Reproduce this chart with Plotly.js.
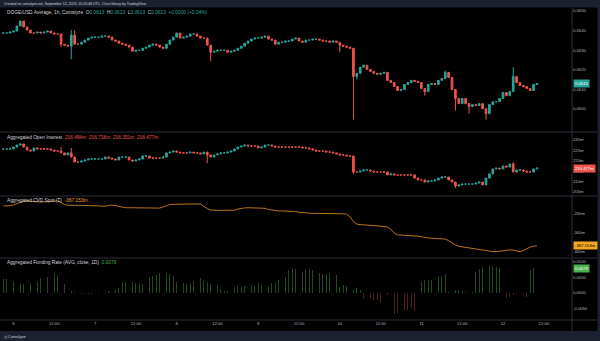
<!DOCTYPE html>
<html><head><meta charset="utf-8">
<script src="https://cdn.plot.ly/plotly-3.0.1.min.js"></script>
<style>html,body{margin:0;padding:0;background:#000;}#c{width:600px;height:341px;}</style>
</head><body><div id="c"></div>
<script>
// ---- DATA (hourly, first candle 2023-09-05 21:00 UTC) ----
const firstHour = Date.UTC(2023, 8, 5, 21);
const priceFirstOpen = 0.06387;
const priceClose = [
0.06387,0.06387,0.06392,
0.06397,0.06423,0.06448,0.06418,0.06402,0.06387,0.06387,0.06392,0.06387,0.06392,
0.06397,0.06387,0.06382,0.06382,0.06330,0.06325,0.06320,0.06376,0.06330,0.06330,
0.06340,0.06351,0.06361,0.06366,0.06366,0.06366,0.06371,0.06371,0.06366,0.06351,
0.06346,0.06335,0.06330,0.06325,0.06315,0.06294,0.06299,0.06299,0.06309,0.06315,
0.06325,0.06330,0.06325,0.06315,0.06309,0.06330,0.06351,0.06366,0.06387,0.06361,
0.06366,0.06371,0.06382,0.06382,0.06371,0.06361,0.06361,0.06325,0.06289,0.06294,
0.06299,0.06299,0.06299,0.06289,0.06294,0.06299,0.06309,0.06320,0.06335,0.06346,
0.06356,0.06361,0.06361,0.06366,0.06371,0.06356,0.06351,0.06330,0.06340,0.06340,
0.06346,0.06346,0.06356,0.06361,0.06346,0.06340,0.06351,0.06351,0.06356,0.06356,
0.06351,0.06346,0.06346,0.06340,0.06346,0.06340,0.06325,0.06320,0.06315,0.06309,
0.06165,0.06181,0.06212,0.06222,0.06201,0.06191,0.06181,0.06176,0.06181,0.06186,
0.06145,0.06134,0.06114,0.06093,0.06098,0.06124,0.06134,0.06145,0.06140,0.06134,
0.06103,0.06088,0.06124,0.06129,0.06124,0.06145,0.06155,0.06186,0.06160,0.06098,
0.06052,0.06026,0.06052,0.06026,0.06011,0.06021,0.06016,0.06026,0.06000,0.05975,
0.06021,0.06036,0.06036,0.06052,0.06083,0.06067,0.06088,0.06165,0.06134,0.06119,
0.06114,0.06103,0.06093,0.06124,0.06129
];
// notable wicks, keyed by candle index
const priceWickHigh = {20: 0.06402, 21: 0.06402, 130: 0.06196, 150: 0.06212};
const priceWickLow  = {17: 0.06315, 20: 0.06253, 61: 0.06243, 99: 0.06289, 103: 0.05944, 104: 0.06150, 124: 0.06067, 133: 0.05990, 137: 0.05975, 142: 0.05944};

const oiFirstOpen = 225.7;
const oiClose = [
225.7,225.7,225.7,
226.6,227.6,228.1,226.6,225.2,224.7,226.2,225.7,225.7,225.7,
225.7,225.2,224.7,224.7,223.8,222.8,223.8,221.8,219.4,219.4,
219.9,220.4,220.9,220.9,220.9,220.9,220.9,221.8,221.3,220.9,
220.4,221.8,221.8,221.8,220.4,219.9,220.4,220.9,222.3,222.3,
221.3,221.3,221.3,221.3,221.8,223.8,224.2,224.7,224.2,223.8,
223.8,223.8,224.2,223.8,223.8,223.3,224.2,222.8,221.8,222.8,
223.3,223.8,223.8,224.2,224.7,225.7,226.6,227.1,227.6,227.1,
227.1,227.1,226.2,226.6,227.6,227.6,227.1,226.6,226.6,226.6,
226.6,226.6,226.6,226.6,226.6,226.2,226.2,225.7,225.2,224.7,
224.7,224.7,224.2,224.2,223.8,223.3,222.8,222.8,222.3,222.3,
214.6,214.6,215.1,215.6,215.6,215.1,214.6,214.6,214.6,214.6,
213.2,213.7,213.2,213.2,213.2,213.2,213.2,213.2,211.7,210.8,
210.8,209.8,210.3,210.3,210.8,211.7,212.2,212.2,210.8,209.8,
207.9,208.4,208.8,208.8,208.8,208.8,209.3,209.8,208.4,211.7,
213.7,216.1,216.5,216.1,217.5,217.0,218.5,214.6,215.6,215.6,
215.1,214.6,214.6,216.1,216.477
];
const oiWickHigh = {17: 226.6, 20: 226.2, 150: 219.4};
const oiWickLow  = {60: 218.9, 103: 213.7, 133: 206.9};

const cvd = [
-158,-158,-156,
-152,-145,-137,-133,-132,-134,-136,-137,-137,-136,
-135,-134,-132,-131,-140,-150,-154,-155,-155,-155,
-155,-155,-156,-156,-156,-158,-160,-159,-155,-153,
-156,-160,-166,-167,-167,-167,-167,-167,-168,-170,
-170,-170,-170,-169,-163,-155,-150,-149,-149,-149,
-149,-148,-148,-148,-147,-147,-160,-172,-179,-181,
-181,-181,-181,-181,-181,-180,-174,-170,-168,-167,
-167,-167,-167,-168,-170,-176,-180,-183,-184,-184,
-184,-184,-185,-187,-191,-193,-196,-197,-197,-197,
-197,-197,-197,-197,-197,-197,-198,-199,-201,-215,
-240,-253,-256,-258,-259,-260,-261,-262,-264,-266,
-268,-280,-300,-310,-311,-311,-311,-312,-313,-317,
-320,-325,-326,-327,-328,-329,-331,-332,-340,-352,
-363,-370,-373,-375,-377,-378,-382,-386,-389,-392,
-395,-398,-398,-396,-393,-390,-389,-390,-394,-398,
-392,-382,-374,-370,-367.153
];

const funding = [
0.0045,0.0045,0.0045,
0.0040,0.0036,0.0031,0.0028,0.0034,0.0033,0.0036,0.0036,0.0047,0.0053,
0.0053,0.0056,0.0061,0.0058,0.0053,0.0028,0.0010,0.0006,0.0003,0.0001,
-0.0002,-0.0002,-0.0003,-0.0002,-0.0004,-0.0003,-0.0001,-0.0002,0.0008,0.0011,
0.0010,0.0015,0.0036,0.0036,0.0038,0.0036,0.0033,0.0031,0.0028,0.0036,
0.0052,0.0055,0.0058,0.0063,0.0067,0.0063,0.0060,0.0056,0.0036,0.0031,
0.0031,0.0028,0.0031,0.0036,0.0042,0.0047,0.0042,0.0036,0.0028,0.0026,
0.0026,0.0013,0.0008,0.0005,0.0010,0.0020,0.0023,0.0020,0.0023,0.0020,
0.0026,0.0023,0.0031,0.0026,0.0020,0.0023,0.0031,0.0036,0.0042,0.0042,
0.0053,0.0074,0.0077,0.0077,0.0072,0.0069,0.0074,0.0079,0.0074,0.0063,
0.0063,0.0060,0.0060,0.0060,0.0060,0.0058,0.0020,0.0026,0.0023,0.0028,
0.0010,0.0015,0.0010,-0.0017,-0.0023,-0.0017,-0.0023,-0.0023,-0.0033,-0.0006,
-0.0006,-0.0001,-0.0069,-0.0066,-0.0060,-0.0055,-0.0055,-0.0050,-0.0058,-0.0060,
0.0036,0.0042,0.0042,0.0042,0.0053,0.0056,0.0056,0.0060,0.0002,0.0006,
0.0010,0.0010,0.0006,0.0004,0.0002,0.0004,0.0069,0.0079,0.0085,0.0090,
0.0090,0.0088,0.0085,0.0082,-0.0006,-0.0017,-0.0012,-0.0006,-0.0004,-0.0004,
-0.0004,-0.0012,0.0074,0.0082,0.0079
];

const xTickVals = ['2023-09-06 00:00','2023-09-06 12:00','2023-09-07 00:00','2023-09-07 12:00','2023-09-08 00:00','2023-09-08 12:00','2023-09-09 00:00','2023-09-09 12:00','2023-09-10 00:00','2023-09-10 12:00','2023-09-11 00:00','2023-09-11 12:00','2023-09-12 00:00','2023-09-12 12:00'];
const xTickText = ['6','12:00','7','12:00','8','12:00','9','12:00','10','12:00','11','12:00','12','12:00'];
const priceTicks = [0.0600,0.0610,0.0620,0.0630,0.0640,0.0650];
const oiTicks = [205,210,215,220,225,230];
const oiTickText = ['205m','210m','215m','220m','225m','230m'];
const cvdTicks = [-400,-300,-200];
const cvdTickText = ['-400m','-300m','-200m'];
const fundTicks = [-0.005,0,0.005,0.01];
const fundTickText = ['-0.0050','0.0000','0.0050','0.0100'];

// ---- BUILD ----
const N = priceClose.length;
const times = [];
for (let i = 0; i < N; i++) times.push(new Date(firstHour + i*3600000).toISOString().slice(0,16).replace('T',' '));
function ohlc(first, close, wh, wl){
  const o=[],h=[],l=[];
  for (let i=0;i<close.length;i++){
    const op = i===0 ? first : close[i-1];
    o.push(op);
    h.push(Math.max(op, close[i], wh[i]!==undefined?wh[i]:-Infinity));
    l.push(Math.min(op, close[i], wl[i]!==undefined?wl[i]:Infinity));
  }
  return {o,h,l};
}
const P = ohlc(priceFirstOpen, priceClose, priceWickHigh, priceWickLow);
const O = ohlc(oiFirstOpen, oiClose, oiWickHigh, oiWickLow);

const W=600, H=341;
const X = px => px/W, Y = py => 1-py/H;
const UP='#26a69a', DN='#ef5350', AX='#b2b5be', TXT='#d1d4dc', FONT='Liberation Sans, Arial, sans-serif';

const traces = [
  {type:'candlestick', x:times, open:P.o, high:P.h, low:P.l, close:priceClose, xaxis:'x', yaxis:'y',
   increasing:{line:{color:UP,width:1},fillcolor:UP}, decreasing:{line:{color:DN,width:1},fillcolor:DN},
   whiskerwidth:0, hoverinfo:'skip', showlegend:false},
  {type:'candlestick', x:times, open:O.o, high:O.h, low:O.l, close:oiClose, xaxis:'x', yaxis:'y2',
   increasing:{line:{color:UP,width:1},fillcolor:UP}, decreasing:{line:{color:DN,width:1},fillcolor:DN},
   whiskerwidth:0, hoverinfo:'skip', showlegend:false},
  {type:'scatter', mode:'lines', x:times, y:cvd, xaxis:'x', yaxis:'y3', line:{color:'#b8731c',width:1}, hoverinfo:'skip', showlegend:false},
  {type:'bar', x:times, y:funding, xaxis:'x', yaxis:'y4', width:800000,
   marker:{color:funding.map(v=>v>=0?'#1f4a22':'#4f1e1e'), line:{width:0}}, hoverinfo:'skip', showlegend:false}
];

const yCommon = {side:'right', anchor:'x', showgrid:false, zeroline:false, showline:false, ticks:'', fixedrange:true,
  tickfont:{size:4.2, color:AX, family:FONT}};
const sep = py => ({type:'line', xref:'paper', yref:'paper', x0:0, x1:X(597), y0:Y(py), y1:Y(py), line:{color:'#2a2e39',width:1}});
const lastI = N-1;
const hdr = (py, html) => ({xref:'paper', yref:'paper', x:X(5), y:Y(py), xanchor:'left', yanchor:'middle', showarrow:false, text:html, font:{size:4.8, color:TXT, family:FONT}});
const box = (yref, yv, txt, bg, fg) => ({xref:'paper', yref:yref, x:X(573), y:yv, xanchor:'left', yanchor:'middle', showarrow:false, text:txt, bgcolor:bg, borderpad:1, font:{size:4.2, color:fg, family:FONT}});
const c = (col, t) => '<span style="color:'+col+'">'+t+'</span>';

const layout = {
  width:W, height:H, margin:{l:0,r:0,t:0,b:0}, paper_bgcolor:'#000', plot_bgcolor:'#000',
  showlegend:false, bargap:0, font:{family:FONT, color:AX},
  xaxis:{domain:[0,X(572)], type:'date', range:['2023-09-05 20:02','2023-09-12 20:18'], anchor:'y4',
    tickvals:xTickVals, ticktext:xTickText, showgrid:false, zeroline:false, showline:false, ticks:'',
    tickfont:{size:4.2, color:AX, family:FONT}, rangeslider:{visible:false}, fixedrange:true},
  yaxis:Object.assign({}, yCommon, {domain:[Y(132),Y(8)], range:[0.05881,0.06515], tickvals:priceTicks, tickformat:'.4f'}),
  yaxis2:Object.assign({}, yCommon, {domain:[Y(196),Y(132)], range:[203.08,233.85], tickvals:oiTicks, ticktext:oiTickText}),
  yaxis3:Object.assign({}, yCommon, {domain:[Y(258),Y(196)], range:[-431.6,-105.3], tickvals:cvdTicks, ticktext:cvdTickText}),
  yaxis4:Object.assign({}, yCommon, {domain:[Y(320),Y(258)], range:[-0.00871,0.01129], tickvals:fundTicks, ticktext:fundTickText}),
  shapes:[
    {type:'rect', xref:'paper', yref:'paper', x0:0, x1:1, y0:Y(7.5), y1:1, fillcolor:'#1c2130', line:{width:0}},
    {type:'rect', xref:'paper', yref:'paper', x0:0, x1:1, y0:0, y1:Y(331), fillcolor:'#1c2130', line:{width:0}},
    {type:'rect', xref:'paper', yref:'paper', x0:X(597.5), x1:1, y0:0, y1:1, fillcolor:'#1c2130', line:{width:0}},
    sep(132), sep(196), sep(258), sep(320),
    {type:'line', xref:'paper', yref:'paper', x0:X(572), x1:X(572), y0:Y(331), y1:Y(8), line:{color:'#2a2e39',width:1}}
  ],
  annotations:[
    {xref:'paper', yref:'paper', x:X(2), y:Y(3.7), xanchor:'left', yanchor:'middle', showarrow:false,
     text:'Created on coinalyze.net, September 12, 2023, 10:20:48 UTC, Chart library by TradingView', font:{size:3.5,color:'#d1d4dc',family:FONT}},
    hdr(13, 'DOGE/USD Average, 1h, Coinalyze  O'+c(UP,'0.0613')+'  H'+c(UP,'0.0613')+'  L'+c(UP,'0.0613')+'  C'+c(UP,'0.0613')+'  '+c(UP,'+0.0000 (+0.04%)')),
    hdr(137, 'Aggregated Open Interest  '+c(DN,'216.484m  216.716m  216.351m  216.477m')),
    hdr(200.5, 'Aggregated CVD Spot (Σ)  '+c('#f5a035','-367.153m')),
    hdr(262.5, 'Aggregated Funding Rate (AVG, close, 1D)  '+c('#4caf50','0.0079')),
    box('y', priceClose[lastI], '0.0613', UP, '#ffffff'),
    box('y2', oiClose[lastI], '216.477m', DN, '#ffffff'),
    box('y3', cvd[lastI], '-367.153m', '#f5a623', '#000000'),
    box('y4', funding[lastI], '0.0079', '#4caf50', '#ffffff'),
    {xref:'paper', yref:'paper', x:X(2), y:Y(336), xanchor:'left', yanchor:'middle', showarrow:false,
     text:'◎ Coinalyze', font:{size:4,color:'#d1d4dc',family:FONT}}
  ]
};
Plotly.newPlot('c', traces, layout, {staticPlot:true, displayModeBar:false});
</script></body></html>
